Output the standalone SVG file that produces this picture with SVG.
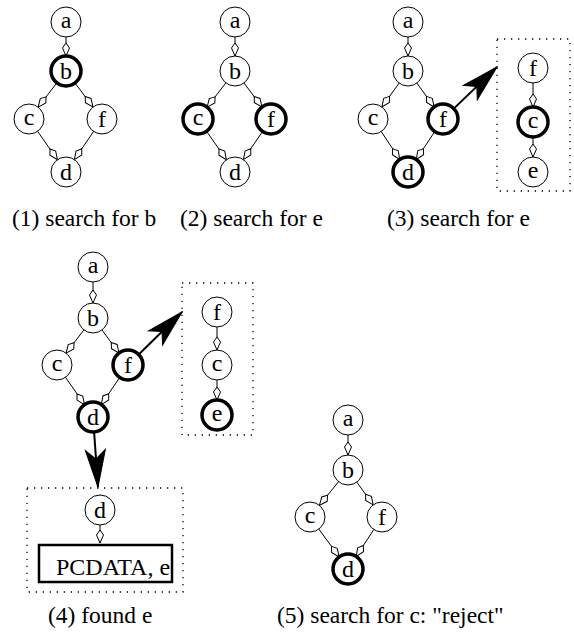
<svg xmlns="http://www.w3.org/2000/svg" width="574" height="635" viewBox="0 0 574 635">
<style>
.n{fill:#fff;stroke:#000;stroke-width:1}
.nb{fill:#fff;stroke:#000;stroke-width:3.5}
.t{font-size:24px;text-anchor:middle;fill:#000}
.lbl{font-size:23.5px;fill:#000}
.e{stroke:#000;stroke-width:1;fill:none;marker-end:url(#dia)}
.big{stroke:#000;stroke-width:2;fill:none;marker-end:url(#bigarrow)}
.box{fill:none;stroke:#000;stroke-width:1.3;stroke-dasharray:1.3 5.7}
</style>
<defs>
<marker id="dia" markerUnits="userSpaceOnUse" viewBox="0 -5 30 10" markerWidth="30" markerHeight="10" refX="28" refY="0" orient="auto" overflow="visible">
<path d="M0,0 L5,-3.5 L13,0 L5,3.5 Z" fill="#fff" stroke="#000" stroke-width="1"/>
</marker>
<marker id="dia0" markerUnits="userSpaceOnUse" viewBox="0 -5 14 10" markerWidth="14" markerHeight="10" refX="13" refY="0" orient="auto" overflow="visible">
<path d="M0,0 L5,-3.5 L13,0 L5,3.5 Z" fill="#fff" stroke="#000" stroke-width="1"/>
</marker>
<marker id="bigarrow" markerUnits="userSpaceOnUse" viewBox="-40 -12 42 24" markerWidth="42" markerHeight="24" refX="0" refY="0" orient="auto" overflow="visible">
<path d="M0,0 L-37,-10 L-28,0 L-37,10 Z" fill="#000" stroke="#000" stroke-width="1"/>
</marker>
<clipPath id="pcclip"><rect x="40" y="546" width="131" height="35"/></clipPath>
</defs>
<rect width="574" height="635" fill="#fff"/>

<g id="connectors">
<line class="e" x1="66" y1="22" x2="66" y2="71"/>
<line class="e" x1="66" y1="71" x2="29" y2="119"/>
<line class="e" x1="66" y1="71" x2="102" y2="119"/>
<line class="e" x1="29" y1="119" x2="66" y2="172"/>
<line class="e" x1="102" y1="119" x2="66" y2="172"/>
<line class="e" x1="235" y1="22" x2="235" y2="71"/>
<line class="e" x1="235" y1="71" x2="198" y2="119"/>
<line class="e" x1="235" y1="71" x2="271" y2="119"/>
<line class="e" x1="198" y1="119" x2="235" y2="172"/>
<line class="e" x1="271" y1="119" x2="235" y2="172"/>
<line class="e" x1="408" y1="22" x2="408" y2="71"/>
<line class="e" x1="408" y1="71" x2="373" y2="119"/>
<line class="e" x1="408" y1="71" x2="443" y2="119"/>
<line class="e" x1="373" y1="119" x2="408" y2="172"/>
<line class="e" x1="443" y1="119" x2="408" y2="172"/>
<line class="e" x1="533" y1="68" x2="533" y2="122"/>
<line class="e" x1="533" y1="122" x2="533" y2="172"/>
<line class="big" x1="453.8" y1="108.6" x2="497" y2="67"/>
<line class="e" x1="93" y1="267" x2="93" y2="318"/>
<line class="e" x1="93" y1="318" x2="57" y2="365"/>
<line class="e" x1="93" y1="318" x2="128" y2="365"/>
<line class="e" x1="57" y1="365" x2="93" y2="417"/>
<line class="e" x1="128" y1="365" x2="93" y2="417"/>
<line class="e" x1="217" y1="312" x2="217" y2="365"/>
<line class="e" x1="217" y1="365" x2="217" y2="415"/>
<line class="big" x1="138.7" y1="354.5" x2="182" y2="312"/>
<line class="big" x1="94.1" y1="432" x2="98" y2="487"/>
<line stroke="#000" stroke-width="1" marker-end="url(#dia0)" x1="100" y1="525" x2="100" y2="543"/>
<line class="e" x1="348" y1="420" x2="348" y2="470"/>
<line class="e" x1="348" y1="470" x2="310" y2="517"/>
<line class="e" x1="348" y1="470" x2="382" y2="517"/>
<line class="e" x1="310" y1="517" x2="348" y2="569"/>
<line class="e" x1="382" y1="517" x2="348" y2="569"/>
</g>

<g id="boxes">
<rect id="box3" class="box" x="497" y="39" width="73" height="152"/>
<rect id="box4" class="box" x="182" y="283" width="71" height="152"/>
<rect id="box4b" class="box" x="27" y="488" width="156" height="104"/>
</g>

<g id="d1-a"><circle class="n" cx="66" cy="22" r="15"/><text class="t" font-family="Liberation Serif" x="66" y="28">a</text></g>
<g id="d1-b"><circle class="nb" cx="66" cy="71" r="15"/><text class="t" font-family="Liberation Serif" x="66" y="79">b</text></g>
<g id="d1-c"><circle class="n" cx="29" cy="119" r="15"/><text class="t" font-family="Liberation Serif" x="29" y="125">c</text></g>
<g id="d1-f"><circle class="n" cx="102" cy="119" r="15"/><text class="t" font-family="Liberation Serif" x="102" y="127">f</text></g>
<g id="d1-d"><circle class="n" cx="66" cy="172" r="15"/><text class="t" font-family="Liberation Serif" x="66" y="180">d</text></g>
<g id="d2-a"><circle class="n" cx="235" cy="22" r="15"/><text class="t" font-family="Liberation Serif" x="235" y="28">a</text></g>
<g id="d2-b"><circle class="n" cx="235" cy="71" r="15"/><text class="t" font-family="Liberation Serif" x="235" y="79">b</text></g>
<g id="d2-c"><circle class="nb" cx="198" cy="119" r="15"/><text class="t" font-family="Liberation Serif" x="198" y="125">c</text></g>
<g id="d2-f"><circle class="nb" cx="271" cy="119" r="15"/><text class="t" font-family="Liberation Serif" x="271" y="127">f</text></g>
<g id="d2-d"><circle class="n" cx="235" cy="172" r="15"/><text class="t" font-family="Liberation Serif" x="235" y="180">d</text></g>
<g id="d3-a"><circle class="n" cx="408" cy="22" r="15"/><text class="t" font-family="Liberation Serif" x="408" y="28">a</text></g>
<g id="d3-b"><circle class="n" cx="408" cy="71" r="15"/><text class="t" font-family="Liberation Serif" x="408" y="79">b</text></g>
<g id="d3-c"><circle class="n" cx="373" cy="119" r="15"/><text class="t" font-family="Liberation Serif" x="373" y="125">c</text></g>
<g id="d3-f"><circle class="nb" cx="443" cy="119" r="15"/><text class="t" font-family="Liberation Serif" x="443" y="127">f</text></g>
<g id="d3-d"><circle class="nb" cx="408" cy="172" r="15"/><text class="t" font-family="Liberation Serif" x="408" y="180">d</text></g>
<g id="d3-box-f"><circle class="n" cx="533" cy="68" r="15"/><text class="t" font-family="Liberation Serif" x="533" y="76">f</text></g>
<g id="d3-box-c"><circle class="nb" cx="533" cy="122" r="15"/><text class="t" font-family="Liberation Serif" x="533" y="128">c</text></g>
<g id="d3-box-e"><circle class="n" cx="533" cy="172" r="15"/><text class="t" font-family="Liberation Serif" x="533" y="178">e</text></g>
<g id="d4-a"><circle class="n" cx="93" cy="267" r="15"/><text class="t" font-family="Liberation Serif" x="93" y="273">a</text></g>
<g id="d4-b"><circle class="n" cx="93" cy="318" r="15"/><text class="t" font-family="Liberation Serif" x="93" y="326">b</text></g>
<g id="d4-c"><circle class="n" cx="57" cy="365" r="15"/><text class="t" font-family="Liberation Serif" x="57" y="371">c</text></g>
<g id="d4-f"><circle class="nb" cx="128" cy="365" r="15"/><text class="t" font-family="Liberation Serif" x="128" y="373">f</text></g>
<g id="d4-d"><circle class="nb" cx="93" cy="417" r="15"/><text class="t" font-family="Liberation Serif" x="93" y="425">d</text></g>
<g id="d4-box-f"><circle class="n" cx="217" cy="312" r="15"/><text class="t" font-family="Liberation Serif" x="217" y="320">f</text></g>
<g id="d4-box-c"><circle class="n" cx="217" cy="365" r="15"/><text class="t" font-family="Liberation Serif" x="217" y="371">c</text></g>
<g id="d4-box-e"><circle class="nb" cx="217" cy="415" r="15"/><text class="t" font-family="Liberation Serif" x="217" y="421">e</text></g>
<g id="d4-box2-d"><circle class="n" cx="100" cy="510" r="15"/><text class="t" font-family="Liberation Serif" x="100" y="518">d</text></g>
<g id="d4-pcdata"><rect x="39" y="545" width="133" height="37" fill="#fff" stroke="none"/><text font-family="Liberation Serif" font-size="24" fill="#000" x="56" y="575" clip-path="url(#pcclip)">PCDATA, e</text><rect x="39" y="545" width="133" height="37" fill="none" stroke="#000" stroke-width="2.5"/></g>
<g id="d5-a"><circle class="n" cx="348" cy="420" r="15"/><text class="t" font-family="Liberation Serif" x="348" y="426">a</text></g>
<g id="d5-b"><circle class="n" cx="348" cy="470" r="15"/><text class="t" font-family="Liberation Serif" x="348" y="478">b</text></g>
<g id="d5-c"><circle class="n" cx="310" cy="517" r="15"/><text class="t" font-family="Liberation Serif" x="310" y="523">c</text></g>
<g id="d5-f"><circle class="n" cx="382" cy="517" r="15"/><text class="t" font-family="Liberation Serif" x="382" y="525">f</text></g>
<g id="d5-d"><circle class="nb" cx="348" cy="569" r="15"/><text class="t" font-family="Liberation Serif" x="348" y="577">d</text></g>

<g id="labels">
<text class="lbl" font-family="Liberation Serif" x="12" y="226">(1) search for b</text>
<text class="lbl" font-family="Liberation Serif" x="180" y="226">(2) search for e</text>
<text class="lbl" font-family="Liberation Serif" x="387" y="226">(3) search for e</text>
<text class="lbl" font-family="Liberation Serif" x="48" y="623">(4) found e</text>
<text class="lbl" font-family="Liberation Serif" x="277" y="623">(5) search for c: "reject"</text>
</g>
</svg>
